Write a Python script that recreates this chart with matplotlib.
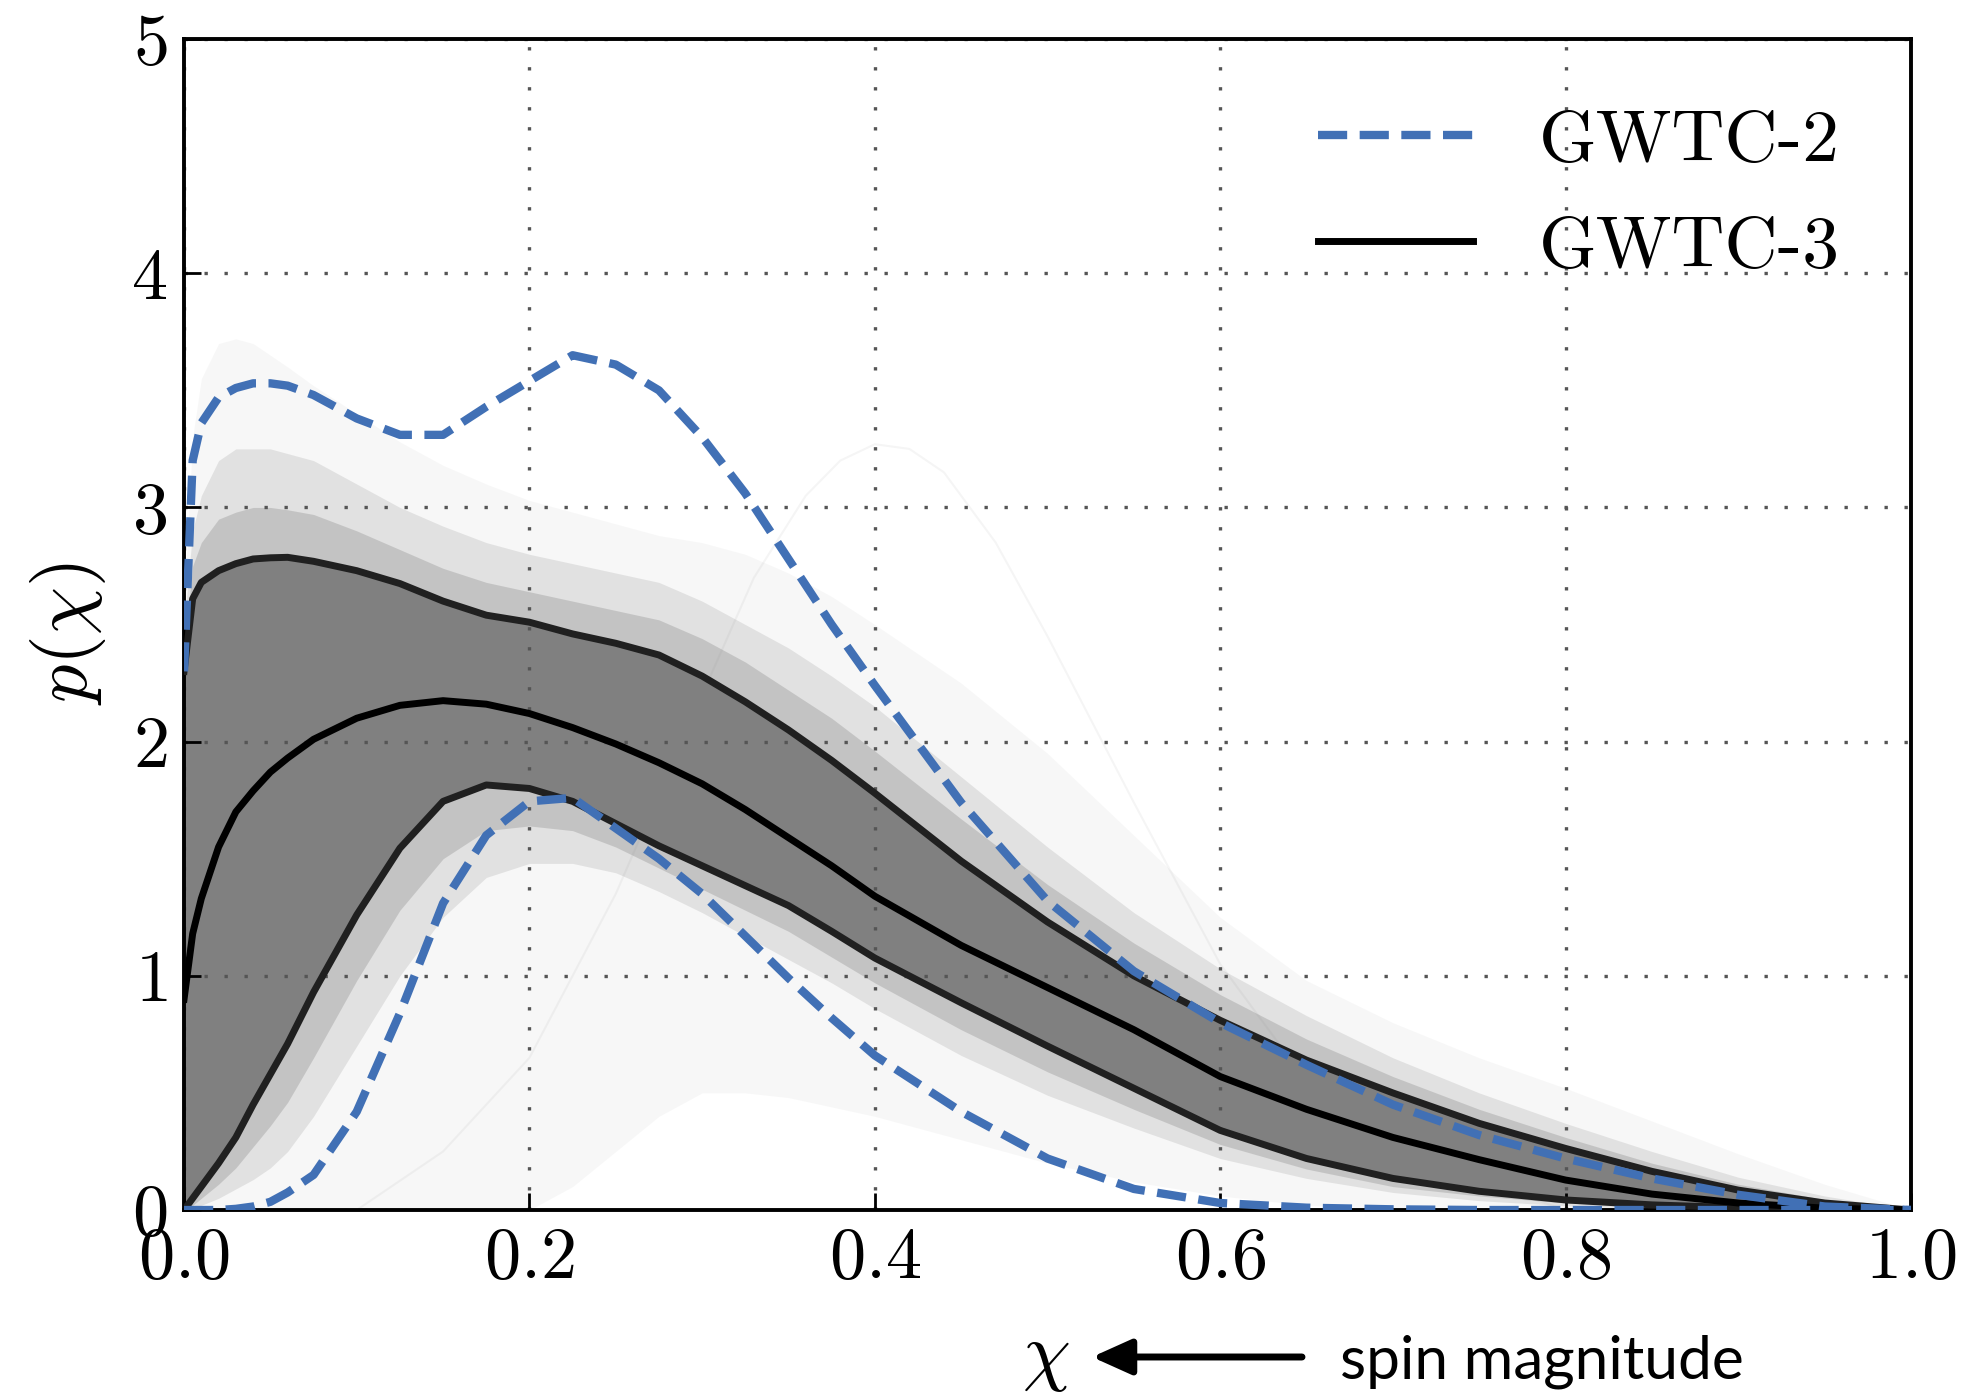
import matplotlib
matplotlib.use("Agg")
import matplotlib.pyplot as plt
from matplotlib.lines import Line2D
from matplotlib.patches import ArrowStyle

plt.rcParams['font.family'] = 'cmr10'
plt.rcParams['mathtext.fontset'] = 'cm'
plt.rcParams['axes.formatter.use_mathtext'] = True

# spin magnitude grid
chi = [0, 0.005, 0.01, 0.02, 0.03, 0.04, 0.05, 0.06, 0.075, 0.1, 0.125, 0.15, 0.175,
       0.2, 0.225, 0.25, 0.275, 0.3, 0.325, 0.35, 0.375, 0.4, 0.45, 0.5, 0.55, 0.6,
       0.65, 0.7, 0.75, 0.8, 0.85, 0.9, 0.95, 1.0]

# GWTC-3: 90% bounds and median
g3_upper = [2.3, 2.61, 2.68, 2.73, 2.76, 2.78, 2.785, 2.787, 2.77, 2.73, 2.675, 2.60, 2.54,
            2.51, 2.46, 2.42, 2.37, 2.28, 2.17, 2.05, 1.92, 1.78, 1.49, 1.23, 1.00, 0.81,
            0.64, 0.50, 0.37, 0.263, 0.165, 0.085, 0.03, 0.0]
g3_median = [0.9, 1.18, 1.33, 1.55, 1.70, 1.79, 1.87, 1.93, 2.01, 2.10, 2.155, 2.175, 2.16,
             2.12, 2.06, 1.99, 1.91, 1.82, 1.71, 1.59, 1.47, 1.34, 1.13, 0.95, 0.77, 0.57,
             0.43, 0.31, 0.215, 0.128, 0.068, 0.03, 0.008, 0.0]
g3_lower = [0.0, 0.05, 0.1, 0.2, 0.31, 0.45, 0.58, 0.71, 0.93, 1.26, 1.545, 1.745, 1.815,
            1.80, 1.745, 1.65, 1.555, 1.47, 1.385, 1.30, 1.19, 1.076, 0.885, 0.70, 0.52, 0.34,
            0.22, 0.135, 0.08, 0.043, 0.022, 0.01, 0.003, 0.0]

# GWTC-2: 90% bounds
g2_upper = [2.3, 3.2, 3.36, 3.47, 3.51, 3.53, 3.53, 3.52, 3.48, 3.38, 3.31, 3.31, 3.43,
            3.54, 3.65, 3.61, 3.50, 3.30, 3.06, 2.78, 2.50, 2.24, 1.74, 1.32, 1.02, 0.80,
            0.62, 0.45, 0.32, 0.22, 0.135, 0.065, 0.015, 0.0]
g2_lower = [0.0, 0.0, 0.0, 0.0, 0.005, 0.015, 0.035, 0.075, 0.15, 0.42, 0.84, 1.31, 1.60,
            1.745, 1.76, 1.63, 1.50, 1.35, 1.17, 0.99, 0.82, 0.66, 0.42, 0.22, 0.09, 0.03,
            0.01, 0.003, 0.0, 0.0, 0.0, 0.0, 0.0, 0.0]

# envelopes of the individual GWTC-3 draws
draws_near_upper = [2.4, 2.75, 2.85, 2.95, 2.98, 3.0, 3.0, 2.99, 2.97, 2.9, 2.82, 2.74, 2.68,
                    2.64, 2.6, 2.56, 2.52, 2.44, 2.34, 2.22, 2.1, 1.96, 1.67, 1.39, 1.14, 0.92,
                    0.73, 0.57, 0.43, 0.31, 0.2, 0.11, 0.045, 0.0]
draws_near_lower = [0.0, 0.02, 0.05, 0.11, 0.18, 0.27, 0.36, 0.46, 0.65, 0.98, 1.28, 1.5, 1.62,
                    1.64, 1.62, 1.55, 1.46, 1.37, 1.28, 1.19, 1.08, 0.97, 0.77, 0.59, 0.43, 0.28,
                    0.175, 0.1, 0.06, 0.03, 0.014, 0.005, 0.001, 0.0]
draws_mid_upper = [2.5, 2.9, 3.05, 3.2, 3.25, 3.25, 3.25, 3.23, 3.2, 3.1, 3.0, 2.92, 2.85,
                   2.8, 2.76, 2.72, 2.68, 2.6, 2.5, 2.4, 2.28, 2.15, 1.85, 1.55, 1.27, 1.03,
                   0.83, 0.65, 0.5, 0.37, 0.25, 0.14, 0.06, 0.0]
draws_mid_lower = [0.0, 0.01, 0.02, 0.05, 0.09, 0.13, 0.18, 0.25, 0.4, 0.7, 1.0, 1.25, 1.42,
                   1.48, 1.48, 1.44, 1.36, 1.27, 1.17, 1.07, 0.97, 0.86, 0.66, 0.49, 0.35, 0.22,
                   0.135, 0.075, 0.04, 0.018, 0.007, 0.002, 0.0, 0.0]
draws_out_upper = [2.6, 3.3, 3.55, 3.7, 3.72, 3.7, 3.65, 3.6, 3.52, 3.4, 3.28, 3.18, 3.1,
                   3.03, 2.98, 2.93, 2.88, 2.85, 2.8, 2.72, 2.62, 2.5, 2.25, 1.95, 1.6, 1.25,
                   0.98, 0.8, 0.65, 0.52, 0.38, 0.24, 0.11, 0.0]
draws_out_lower = [0.0, 0.0, 0.0, 0.0, 0.0, 0.0, 0.0, 0.0, 0.0, 0.0, 0.0, 0.0, 0.0,
                   0.0, 0.1, 0.25, 0.4, 0.5, 0.5, 0.48, 0.44, 0.4, 0.3, 0.2, 0.12, 0.06,
                   0.02, 0.005, 0.0, 0.0, 0.0, 0.0, 0.0, 0.0]
# one faint outlying draw
odd_chi = [0.1, 0.15, 0.2, 0.25, 0.3, 0.33, 0.36, 0.38, 0.4, 0.42, 0.44, 0.47, 0.5, 0.55,
           0.6, 0.65, 0.7, 0.8]
odd_p = [0.0, 0.25, 0.65, 1.35, 2.2, 2.7, 3.05, 3.2, 3.27, 3.25, 3.15, 2.85, 2.45, 1.74,
         1.05, 0.55, 0.25, 0.0]

blue = '#4170b5'
gray = '#808080'

fig = plt.figure(figsize=(19.62, 13.95), dpi=100)
ax = fig.add_axes([0.0938, 0.1326, 0.8802, 0.8394])

ax.fill_between(chi, draws_out_lower, draws_out_upper, color=gray, alpha=0.06, lw=0)
ax.fill_between(chi, draws_mid_lower, draws_mid_upper, color=gray, alpha=0.18, lw=0)
ax.fill_between(chi, draws_near_lower, draws_near_upper, color=gray, alpha=0.3, lw=0)
ax.fill_between(chi, g3_lower, g3_upper, color=gray, lw=0)
ax.plot(odd_chi, odd_p, color=gray, alpha=0.08, lw=1.5)

ax.plot(chi, g3_upper, color='#202020', lw=5, zorder=3)
ax.plot(chi, g3_lower, color='#202020', lw=5, zorder=3)
ax.plot(chi, g3_median, color='black', lw=5, zorder=3)
ax.plot(chi, g2_upper, color=blue, lw=6, dashes=(3.5, 1.5), zorder=4)
ax.plot(chi, g2_lower, color=blue, lw=6, dashes=(3.5, 1.5), zorder=4)

ax.set_xlim(0, 1)
ax.set_ylim(0, 5)
ax.set_xticks([0, 0.2, 0.4, 0.6, 0.8, 1.0])
ax.set_yticks([0, 1, 2, 3, 4, 5])
ax.set_axisbelow('line')
ax.grid(True, color='#555555', lw=2.4, linestyle=(0, (1, 5)))
ax.tick_params(direction='in', length=12, width=2, labelsize=52, pad=12)
for s in ax.spines.values():
    s.set_linewidth(2.8)

handles = [Line2D([], [], color=blue, lw=6, dashes=(3.5, 1.5)),
           Line2D([], [], color='black', lw=5)]
ax.legend(handles, ['GWTC-2', 'GWTC-3'], loc='upper right', frameon=False,
          fontsize=53, handlelength=2.1, handletextpad=0.9, labelspacing=0.55,
          borderpad=0, borderaxespad=0, bbox_to_anchor=(0.959, 0.94))

fig.text(0.0347, 0.5455, r'$p(\chi)$', fontsize=55, rotation=90, ha='center', va='center')
fig.text(1046 / 1962, 1 - 1360 / 1395, r'$\chi$', fontsize=55, ha='center', va='center')
ax.annotate('', xy=(1092, 1395 - 1357), xytext=(1302, 1395 - 1357),
            xycoords='figure pixels', textcoords='figure pixels',
            arrowprops=dict(arrowstyle=ArrowStyle('-|>', head_length=0.4, head_width=0.18),
                            mutation_scale=60, lw=5, color='black',
                            shrinkA=0, shrinkB=0))
fig.text(1340 / 1962, 1 - 1362 / 1395, 'spin magnitude', fontsize=43.5,
         family=['Lato', 'DejaVu Sans'], ha='left', va='center')

fig.savefig('out.png', dpi=100)
